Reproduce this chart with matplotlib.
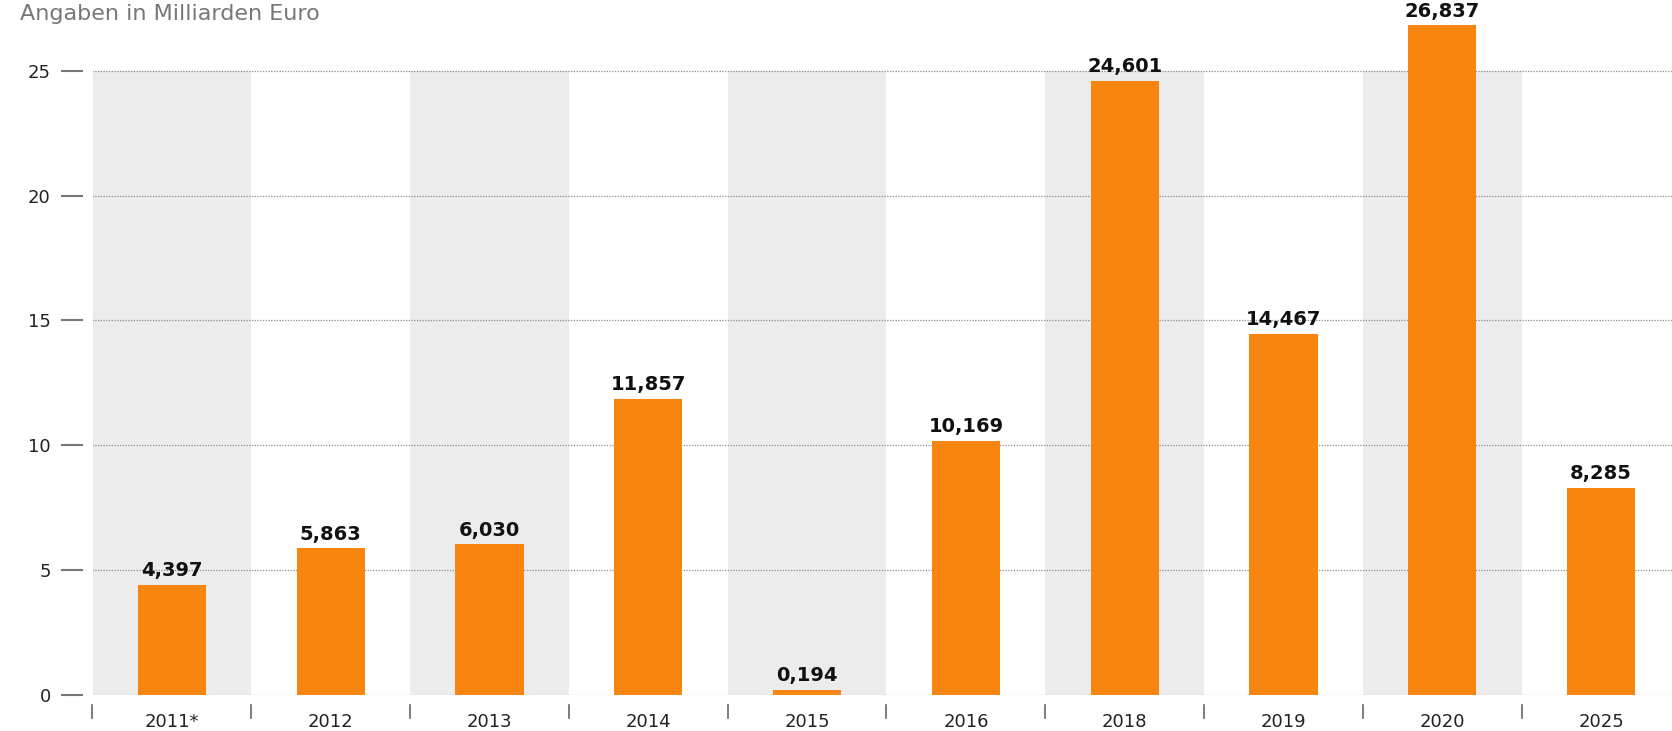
import numpy as np
import matplotlib
matplotlib.use('Agg')
import matplotlib.pyplot as plt
import matplotlib.transforms as mtransforms

# data: yearly values in billion euro
years = ['2011*', '2012', '2013', '2014', '2015', '2016', '2018', '2019', '2020', '2025']
values = [4.397, 5.863, 6.030, 11.857, 0.194, 10.169, 24.601, 14.467, 26.837, 8.285]
y_ticks = [0, 5, 10, 15, 20, 25]

W, H = 1672, 731
fig = plt.figure(figsize=(W / 100, H / 100), dpi=100)

# axes spans a bit past the right edge, like the cropped original
left, bottom = 92.5, 36.5
ax = fig.add_axes([left / W, bottom / H, 1588 / W, (H - bottom) / H])
ax.set_xlim(-0.5, len(years) - 0.5)
ax.set_ylim(0, 27.84)

x = np.arange(len(years))

# alternating grey column bands
for i in x[::2]:
    ax.bar(i, y_ticks[-1], width=1.0, color='#ececec', zorder=0)

# dotted horizontal gridlines
ax.hlines(y_ticks, -0.5, len(years) - 0.5, colors='#8a8a8a',
          linestyles=(0, (1, 1.2)), linewidth=0.9, zorder=1)

bars = ax.bar(x, values, width=0.43, color='#f7850f', zorder=2)

# value labels above the bars
for xi, v in zip(x, values):
    ax.annotate(f"{v:.3f}".replace('.', ','), (xi, v), xytext=(0, 6),
                textcoords='offset points', ha='center', va='baseline',
                fontsize=14, fontweight='bold', color='#111111')

for s in ax.spines.values():
    s.set_visible(False)

ax.set_yticks(y_ticks)
ax.set_yticklabels([str(t) for t in y_ticks])
ax.set_xticks(x)
ax.set_xticklabels(years)
ax.tick_params(axis='y', length=0, pad=30, labelsize=13, labelcolor='#222222')
ax.tick_params(axis='x', length=0, pad=13, labelsize=13, labelcolor='#222222')

# short dashes next to the y labels
ytrans = mtransforms.blended_transform_factory(ax.transAxes, ax.transData)
for t in y_ticks:
    ax.plot([-0.0192, -0.0066], [t, t], transform=ytrans, color='#777777',
            lw=1.5, clip_on=False)

# small separators between categories under the baseline
xtrans = mtransforms.blended_transform_factory(ax.transData, ax.transAxes)
for b in np.arange(len(years)) - 0.5:
    ax.plot([b, b], [-0.0151, -0.0338], transform=xtrans, color='#666666',
            lw=1.2, clip_on=False)

fig.text(20 / W, 1 - 20 / H, 'Angaben in Milliarden Euro', fontsize=16,
         color='#777777', ha='left', va='baseline')

fig.savefig('out.png', dpi=100)
